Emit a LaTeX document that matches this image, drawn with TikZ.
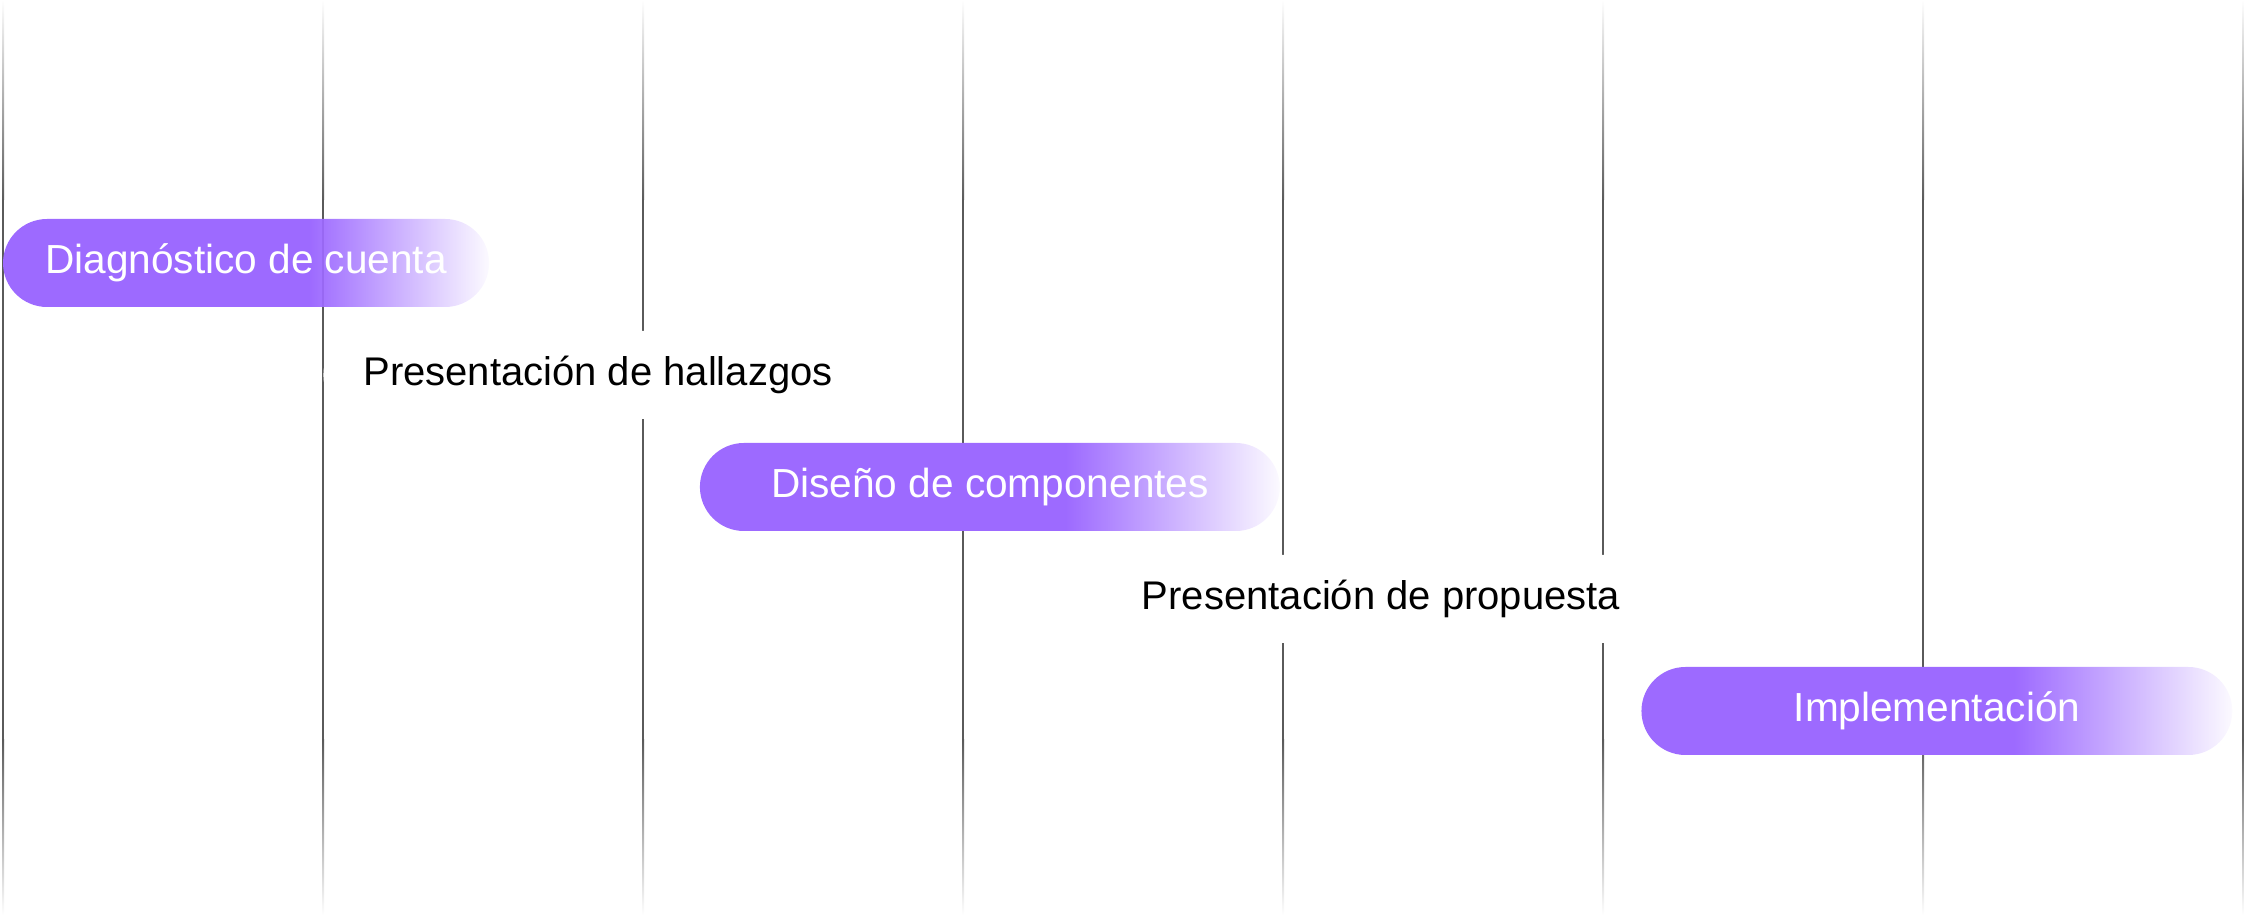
\documentclass[tikz,border=0pt]{standalone}
\usepackage{fontspec}
\setmainfont{Liberation Sans}
\usetikzlibrary{fadings}
\definecolor{pillpurple}{RGB}{157,106,255}
\definecolor{linegray}{RGB}{90,90,90}

\begin{tikzfadingfrompicture}[name=pillfade]
\path (-50bp,-50bp) rectangle (50bp,50bp);
\fill[transparent!0] (-50bp,-50bp) rectangle (7bp,50bp);
\shade[left color=transparent!0,right color=transparent!97] (6.5bp,-50bp) rectangle (25bp,50bp);
\end{tikzfadingfrompicture}

\begin{document}
\begin{tikzpicture}[x=0.5pt,y=0.5pt,
  pill/.style={fill=pillpurple, path fading=pillfade, rounded corners=22pt,
    minimum height=44pt, inner sep=0pt, text=white,
    font=\fontsize{20.3}{24}\selectfont},
  labelbox/.style={fill=white, rounded corners=22pt, minimum height=44pt,
    inner xsep=20pt, inner ysep=0pt, font=\fontsize{20}{24}\selectfont}]
\useasboundingbox (0,0) rectangle (2244,920);
% time lines
\foreach \x in {3,323,...,2243} {
  \shade[top color=white, bottom color=linegray] (\x-1,920) rectangle (\x+1,720);
  \fill[linegray] (\x-1,720.5) rectangle (\x+1,179.5);
  \shade[top color=linegray, bottom color=white] (\x-1,180) rectangle (\x+1,5);
}
% steps
\node[pill, minimum width=243pt] (diag) at (246,657) {Diagnóstico de cuenta};
\node[labelbox] (hallazgos) at (598,545) {Presentación de hallazgos};
\node[pill, minimum width=290pt] (diseno) at (990,433) {Diseño de componentes};
\node[labelbox] (propuesta) at (1381,321) {Presentación de propuesta};
\node[pill, minimum width=295.5pt] (impl) at (1937,209) {Implementación};
\end{tikzpicture}
\end{document}
